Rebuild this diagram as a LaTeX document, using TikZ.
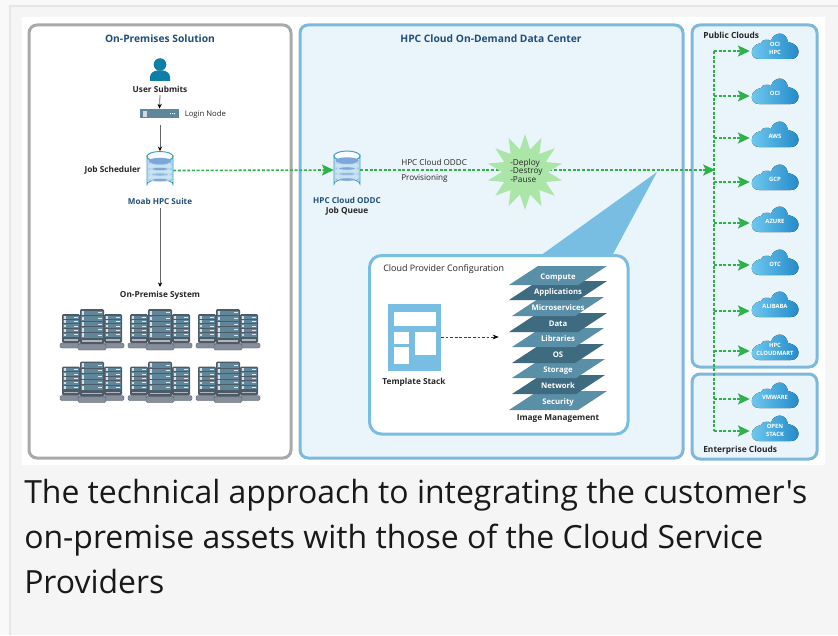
\documentclass[tikz,border=0pt]{standalone}
\usepackage{fontspec}
\setmainfont{Open Sans}
\newfontfamily\capfont{Open Sans}
\usetikzlibrary{arrows.meta,shapes.geometric,calc}
\definecolor{pagebg}{HTML}{F5F5F5}
\definecolor{pageline}{HTML}{E6E6E6}
\definecolor{greyframe}{HTML}{A9A9A9}
\definecolor{blueframe}{HTML}{7DB9DC}
\definecolor{bluefill}{HTML}{EAF4FB}
\definecolor{wedge}{HTML}{78BEE2}
\definecolor{titleblue}{HTML}{1F4E79}
\definecolor{flow}{HTML}{2DB24A}
\definecolor{stargreen}{HTML}{ABE6A8}
\definecolor{layerlight}{HTML}{5A8FA8}
\definecolor{layerdark}{HTML}{3F6B80}
\definecolor{userblue}{HTML}{0F7EA8}
\definecolor{rackdark}{HTML}{4E5A66}
\definecolor{rackface}{HTML}{5F8799}
\definecolor{rackbase}{HTML}{868D9B}
\definecolor{cloudlight}{HTML}{72CBF1}
\definecolor{clouddeep}{HTML}{1F86C6}
\definecolor{cylline}{HTML}{3E9CC2}
\definecolor{cylpale}{HTML}{C4E4F2}
\definecolor{cylband}{HTML}{7CA7D8}
\definecolor{cylbandb}{HTML}{94BAE2}
\tikzset{
  x=0.75pt,y=-0.75pt,
  panelgrey/.style={draw=greyframe,line width=2.25pt,rounded corners=6pt,fill=white},
  panelblue/.style={draw=blueframe,line width=2.25pt,rounded corners=6pt,fill=bluefill},
  innerbox/.style={draw=wedge,line width=2.25pt,rounded corners=9pt,fill=white},
  lab/.style={font=\fontsize{6.1pt}{7.5pt}\selectfont,text=black!85,inner sep=0pt,text height=6pt,text depth=1.2pt},
  boldlab/.style={lab,font=\fontsize{6.2pt}{7.5pt}\selectfont\bfseries},
  title/.style={inner sep=0pt,text=titleblue,text height=7.7pt,text depth=1.4pt,font=\fontsize{7.7pt}{9pt}\selectfont\bfseries},
  subtitle/.style={inner sep=0pt,text=titleblue,text height=6pt,text depth=1.2pt,font=\fontsize{6.1pt}{7.5pt}\selectfont\bfseries},
  flowline/.style={draw=flow,line width=1.2pt,dash pattern=on 2.2pt off 1.3pt},
  flowarrow/.style={flowline,-{Stealth[length=9pt,width=8.5pt,inset=2pt,fill=flow,line width=0pt]}},
  thinarrow/.style={draw=black!60,line width=0.6pt,-{Stealth[length=3.5pt,width=3.2pt,black]}},
  dasharrow/.style={draw=black!75,line width=0.5pt,dash pattern=on 2pt off 1.4pt,-{Stealth[length=4.5pt,width=3.5pt,black]}},
  layerlab/.style={inner sep=0pt,text=white,text height=5.8pt,text depth=1pt,font=\fontsize{5.8pt}{7pt}\selectfont\bfseries},
  cloudlab/.style={inner sep=0pt,text=white,align=center,font=\fontsize{4.4pt}{6pt}\selectfont\bfseries},
  anchorpt/.style={inner sep=0pt,minimum size=0pt},
  cylbox/.style={inner sep=0pt,minimum width=19.5pt,minimum height=28.5pt},
  pics/cloudshape/.style={code={
    \fill[left color=cloudlight,right color=clouddeep]
      (-16,0) .. controls (-26,0) and (-26,-14) .. (-14,-16)
      .. controls (-13,-20) and (-6,-20) .. (-4,-18)
      .. controls (-2,-27) and (11,-29) .. (13,-17)
      .. controls (27,-15) and (26,0) .. (16,0) -- cycle;
  }},
  pics/cyl/.style={code={
    % local origin = centre of cylinder; 26 px wide, 38 px tall
    \fill[fill=cylpale,draw=cylline,line width=0.7pt]
      (-13,-14) -- (-13,14) arc[start angle=180,end angle=360,x radius=13,y radius=5]
      -- (13,-14) arc[start angle=0,end angle=180,x radius=13,y radius=5] -- cycle;
    \fill[fill=white!90!cylpale,draw=cylline,line width=0.7pt] (0,-14) ellipse[x radius=13,y radius=5];
    \foreach \yy/\cc in {11.5/cylband,6/cylbandb,0.5/cylband,-5/cylbandb}{
      \fill[fill=\cc,draw=white!60!cylband,line width=0.3pt]
        (-11.5,\yy-4) -- (-11.5,\yy) arc[start angle=180,end angle=360,x radius=11.5,y radius=3.5]
        -- (11.5,\yy-4) arc[start angle=0,end angle=180,x radius=11.5,y radius=3.5] -- cycle;
    }
    \fill[fill=cylband] (0,-9.5) ellipse[x radius=11.5,y radius=3.2];
  }},
  pics/rack/.style args={#1/#2/#3}{code={
    % #1 half width, #2 height, #3 shelves; origin top centre
    \fill[rackdark,rounded corners=1pt] (-#1,0) rectangle (#1,#2);
    \pgfmathsetmacro{\rh}{(#2-7)/#3}
    \foreach \ii in {1,...,#3}{
      \fill[rackface] ({-#1+1.2},{1.5+(\ii-1)*\rh}) rectangle ({#1-1.2},{1.5+\ii*\rh-1});
      \fill[white!75!rackface] ({-#1+2},{1.9+(\ii-1)*\rh}) rectangle ({-#1+4.4},{1.5+\ii*\rh-1.3});
      \fill[white!80!rackface] ({#1-6.5},{1.5+(\ii-.5)*\rh-1}) rectangle ({#1-2.5},{1.5+(\ii-.5)*\rh-.2});
    }
    \fill[white!55!rackdark] ({-#1+2},{#2-3.6}) rectangle ({#1-2},{#2-2.2});
  }},
  pics/servergroup/.style={code={
    \pic at (-21,5) {rack=9/29/5};
    \pic at (21,5) {rack=9/29/5};
    \fill[rackbase,draw=rackdark,line width=0.3pt,rounded corners=1pt] (-32,34) rectangle (32,39);
    \pic at (0,0) {rack=12/35/5};
    \fill[rackbase,draw=rackdark,line width=0.3pt,rounded corners=1pt] (-14,35) rectangle (14,41);
  }},
}
\newcommand{\layer}[5]{% y, left, right, colour, text
  \fill[#4] (558-#2,#1+9) -- (558-#2+29,#1-10) -- (558+#3,#1-10) -- (558+#3-29,#1+9) -- cycle;
  \node[layerlab] (lay#1) at (558,#1) {#5};
}
\newcommand{\cloudrow}[4]{% name, bottom y, arrow y, text
  \pic at (775,#2) {cloudshape};
  \node[anchorpt] (#1in) at (750,#3) {};
  \node[cloudlab] (#1) at (775,#2-10.5) {#4};
  \coordinate (#1tap) at (714,#3);
  \draw[flowarrow] (#1tap) -- (#1in);
}
\begin{document}
\begin{tikzpicture}
\useasboundingbox (0,0) rectangle (838,635);
\fill[white!40!pagebg] (0,0) rectangle (838,635);
\fill[pagebg] (10,6) rectangle (838,635);
\draw[pageline,line width=1.5pt] (10,635) -- (10,6) -- (838,6);
\fill[white] (22,17) rectangle (825,465);

% panels
\path[panelgrey] (29,25) rectangle (291,458);
\path[panelblue] (300,25) rectangle (683,458);
\path[panelblue] (692,25) rectangle (817,367);
\path[panelblue] (692,374) rectangle (817,459);

\node[title] (onprem) at (160,38) {On-Premises Solution};
\node[title] (hpcdc) at (491,38) {HPC Cloud On-Demand Data Center};

% user
\fill[userblue] (160,64.5) circle[radius=6.3];
\fill[userblue] (150,81) -- (150,77) .. controls (150,72) and (155,71) .. (157,70.5) -- (163,70.5) .. controls (165,71) and (170,72) .. (170,77) -- (170,81) -- cycle;
\node[boldlab] (user) at (160,89) {User Submits};

% login node
\node[anchorpt,fill=rackface,minimum width=29.5pt,minimum height=7pt] (login) at (159.5,113.5) {};
\fill[white!70!rackface] (143,110.5) rectangle (147,116.5);
\fill[white] (170,113) rectangle (171,114) (172,113) rectangle (173,114) (174,113) rectangle (175,114);
\node[lab,anchor=west,font=\fontsize{5.8pt}{7.5pt}\selectfont] (loginlab) at (184.5,113.5) {Login Node};

% scheduler
\node[cylbox] (sched) at (160,170.5) {};
\pic at (160,170.5) {cyl};
\node[boldlab,anchor=east] (schedlab) at (141,169) {Job Scheduler};
\node[subtitle] (moab) at (160,201) {Moab HPC Suite};
\node[boldlab] (onsys) at (160,294) {On-Premise System};

\coordinate (userfoot) at (160,95);
\coordinate (loginfoot) at (160,125);
\coordinate (moabfoot) at (160,208);
\draw[thinarrow] (userfoot) -- (login.north);
\draw[thinarrow] (loginfoot) -- (sched.north);
\draw[thinarrow] (moabfoot) -- (160,287);

% servers
\foreach \cx in {92,160,228}{
  \pic at (\cx,309) {servergroup};
  \pic at (\cx,361.5) {servergroup};
}

% wedge
\fill[wedge] (657,172) -- (540,256) -- (612,256) -- cycle;

% queue
\node[cylbox] (queue) at (347,170) {};
\pic at (347,170) {cyl};
\node[subtitle] (queuelab) at (347,200.5) {HPC Cloud ODDC};
\node[boldlab] (queuelab2) at (347,210.7) {Job Queue};

% flows
\coordinate (trunkin) at (715,170);
\draw[flowarrow] (sched.east) -- (queue.west);
\draw[flowline] (queue.east) -- (540,170);
\draw[flowarrow] (540,170) -- (trunkin);

\node[lab,anchor=west] (prov1) at (401,162) {HPC Cloud ODDC};
\node[lab,anchor=west] (prov2) at (401,177) {Provisioning};

% star
\node[star,star points=14,star point ratio=1.65,fill=stargreen,inner sep=0pt,minimum size=57pt] (starshape) at (525,172) {};
\node[inner sep=0pt,text=black!85,align=left,anchor=west,font=\fontsize{6.2pt}{6.4pt}\selectfont] (startext) at (510,170.5) {-Deploy\\-Destroy\\-Pause};

% cloud config
\path[innerbox] (369.5,255.5) rectangle (628,434);
\node[lab,anchor=west,font=\fontsize{6.7pt}{7.5pt}\selectfont] (cfg) at (383,268) {Cloud Provider Configuration};

\node[anchorpt,fill=wedge,minimum width=39.75pt,minimum height=50pt] (tmpl) at (414.5,337.5) {};
\fill[white] (394,311.5) rectangle (435.5,326);
\fill[white] (394,331.5) rectangle (409,343.5);
\fill[white] (394,346.5) rectangle (409,363.5);
\fill[white] (414.5,331.5) rectangle (435.5,355);
\node[boldlab] (tmpllab) at (414,381) {Template Stack};
\node[anchorpt] (stackin) at (499,337) {};
\draw[dasharrow] (tmpl.east |- stackin) -- (stackin);

% layers bottom to top
\layer{401}{49}{49}{layerlight}{Security}
\layer{385}{46}{47}{layerdark}{Network}
\layer{369}{46}{47}{layerlight}{Storage}
\layer{354}{46}{46}{layerdark}{OS}
\layer{338}{46}{46}{layerlight}{Libraries}
\layer{323}{49}{49}{layerdark}{Data}
\layer{307}{46}{46}{layerlight}{Microservices}
\layer{291}{49}{49}{layerdark}{Applications}
\layer{276}{49}{49}{layerlight}{Compute}
\node[boldlab] (imgmgmt) at (558,417) {Image Management};

% cloud panel
\node[boldlab,anchor=west,font=\fontsize{6.3pt}{7.5pt}\selectfont\bfseries] (pub) at (703,35) {Public Clouds};
\node[boldlab,anchor=west,font=\fontsize{6.3pt}{7.5pt}\selectfont\bfseries] (ent) at (703,449) {Enterprise Clouds};
\draw[flowline] (714,51) -- (714,431);
\cloudrow{ocihpc}{59}{51}{OCI\\HPC}
\cloudrow{oci}{104}{96}{OCI}
\cloudrow{aws}{147}{138}{AWS}
\cloudrow{gcp}{190}{182}{GCP}
\cloudrow{azure}{232}{223}{AZURE}
\cloudrow{otc}{275}{265}{OTC}
\cloudrow{alibaba}{317}{311}{ALIBABA}
\cloudrow{cloudmart}{360}{351}{HPC\\CLOUDMART}
\cloudrow{vmware}{408}{399}{VMWARE}
\cloudrow{openstack}{441}{431}{OPEN\\STACK}

% caption
\node[anchor=base west,inner sep=0pt,text=black!90,font=\capfont\fontsize{23.95pt}{33.75pt}\selectfont,align=left] (caption) at (24,593) {The technical approach to integrating the customer's\\on-premise assets with those of the Cloud Service\\Providers};
\end{tikzpicture}
\end{document}
